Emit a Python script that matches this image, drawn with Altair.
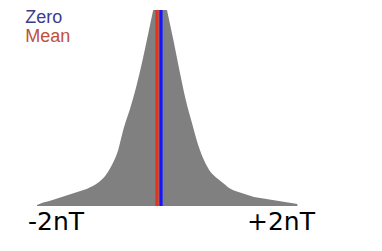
import altair as alt
import pandas as pd

# histogram bins (nT) and their heights
bin_centers = [k / 10 for k in range(-20, 23)]
bin_heights = [1, 3.5, 5, 7, 9, 11, 13, 15, 17, 20,
               24, 30, 40, 54, 78, 97, 119, 145, 174, 203,
               225,
               195, 166, 135, 106, 83, 61, 45, 34, 28, 23,
               18, 15, 13, 11, 9, 8, 7, 6, 5, 4, 3, 2]

# reference lines
line_names = ["Mean", "Zero"]
line_values = [-0.065, 0.0]
line_colors = ["#e8301c", "#1414ff"]

# legend texts
legend_texts = ["Zero", "Mean"]
legend_colors = ["#3c3c8c", "#c0503c"]
legend_x = [-2.19, -2.19]
legend_y = [183, 164]

# axis end labels
tick_labels = ["-2nT", "+2nT"]
tick_x = [-2.145, 2.484]
tick_y = [-24, -24]

hist = pd.DataFrame({"v": bin_centers, "h": bin_heights})
legend = pd.DataFrame({"t": legend_texts, "c": legend_colors, "x": legend_x, "y": legend_y})
ticks = pd.DataFrame({"t": tick_labels, "x": tick_x, "y": tick_y})

xs = alt.Scale(domain=[-2.274, 2.565], nice=False, zero=False)
ys = alt.Scale(domain=[-36, 196], nice=False, zero=False)

area = alt.Chart(hist).mark_area(color="#808080", interpolate="monotone", clip=True).encode(
    x=alt.X("v:Q", scale=xs, axis=None),
    y=alt.Y("h:Q", scale=ys, axis=None),
    y2=alt.datum(0),
)

rule_layers = []
for n, v, c in zip(line_names, line_values, line_colors):
    d = pd.DataFrame({"v": [v], "lo": [0], "hi": [196]})
    rule_layers.append(
        alt.Chart(d).mark_rule(color=c, strokeWidth=3.2).encode(
            x=alt.X("v:Q", scale=xs, axis=None),
            y=alt.Y("lo:Q", scale=ys, axis=None),
            y2="hi:Q",
        )
    )

legend_text = alt.Chart(legend).mark_text(
    align="left", baseline="alphabetic", font="Liberation Sans", fontSize=18
).encode(
    x=alt.X("x:Q", scale=xs, axis=None),
    y=alt.Y("y:Q", scale=ys, axis=None),
    text="t:N",
    color=alt.Color("c:N", scale=None),
)

left_lab = alt.Chart(ticks.iloc[[0]]).mark_text(
    align="left", baseline="alphabetic", font="DejaVu Sans", fontSize=25, color="black"
).encode(
    x=alt.X("x:Q", scale=xs, axis=None),
    y=alt.Y("y:Q", scale=ys, axis=None),
    text="t:N",
)
right_lab = alt.Chart(ticks.iloc[[1]]).mark_text(
    align="right", baseline="alphabetic", font="DejaVu Sans", fontSize=25, color="black"
).encode(
    x=alt.X("x:Q", scale=xs, axis=None),
    y=alt.Y("y:Q", scale=ys, axis=None),
    text="t:N",
)

chart = alt.layer(area, *rule_layers, legend_text, left_lab, right_lab).properties(
    width=300,
    height=232,
    padding={"left": 12, "top": 0, "right": 0, "bottom": 0},
    background="white",
).configure_view(stroke=None)

chart.save("out.html", embed_options={"renderer": "svg", "actions": False})
